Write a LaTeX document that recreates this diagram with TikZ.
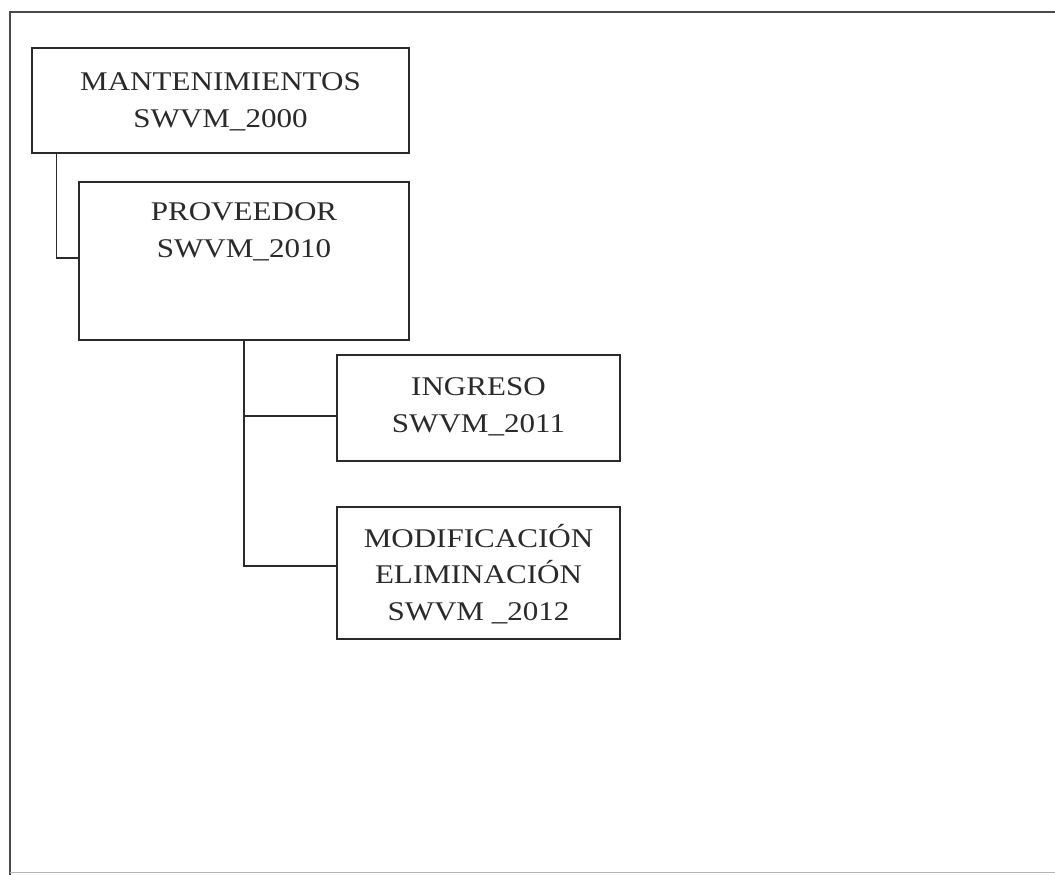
\documentclass[tikz,border=0pt]{standalone}
\usepackage{fontspec}
\setmainfont{Liberation Serif}[FakeStretch=1.15]
\definecolor{ink}{HTML}{2A2A2A}
\begin{document}
\begin{tikzpicture}[x=1pt,y=-1pt,
  box/.style={draw=ink, line width=1.3pt, rectangle, inner sep=0pt},
  conn/.style={draw=ink, line width=1.3pt},
  frameline/.style={draw=ink!85, line width=1.1pt},
  lbl/.style={font=\fontsize{27}{37}\selectfont, text=ink, anchor=base, inner sep=0pt}]
\useasboundingbox (0,0) rectangle (1055,875);
\fill[white] (0,0) rectangle (1055,875);
% outer frame
\draw[frameline] (1055,12) -- (10,12) -- (10,875);
\draw[draw=ink!35, line width=1pt] (10,872) -- (1055,872);
% boxes
\node[box, minimum width=377pt, minimum height=105pt] (mant) at (220.5,100.5) {};
\node[box, minimum width=330pt, minimum height=158pt] (prov) at (244,261) {};
\node[box, minimum width=283pt, minimum height=106pt] (ing) at (478.5,408) {};
\node[box, minimum width=283pt, minimum height=132pt] (mod) at (478.5,573) {};
% texts
\node[lbl] (mant1) at (220.5,90) {MANTENIMIENTOS};
\node[lbl] (mant2) at (220.5,127) {SWVM\_2000};
\node[lbl] (prov1) at (244,220) {PROVEEDOR};
\node[lbl] (prov2) at (244,257) {SWVM\_2010};
\node[lbl] (ing1) at (478.5,395) {INGRESO};
\node[lbl] (ing2) at (478.5,432) {SWVM\_2011};
\node[lbl] (mod1) at (478.5,547) {MODIFICACIÓN};
\node[lbl] (mod2) at (478.5,583) {ELIMINACIÓN};
\node[lbl] (mod3) at (478.5,620) {SWVM \_2012};
% connectors
\draw[conn] ([xshift=25pt]mant.south west) |- ([yshift=3pt]prov.west);
\draw[conn] (prov.south) |- ([yshift=-8pt]ing.west);
\draw[conn] (prov.south) |- ([yshift=7pt]mod.west);
\end{tikzpicture}
\end{document}
